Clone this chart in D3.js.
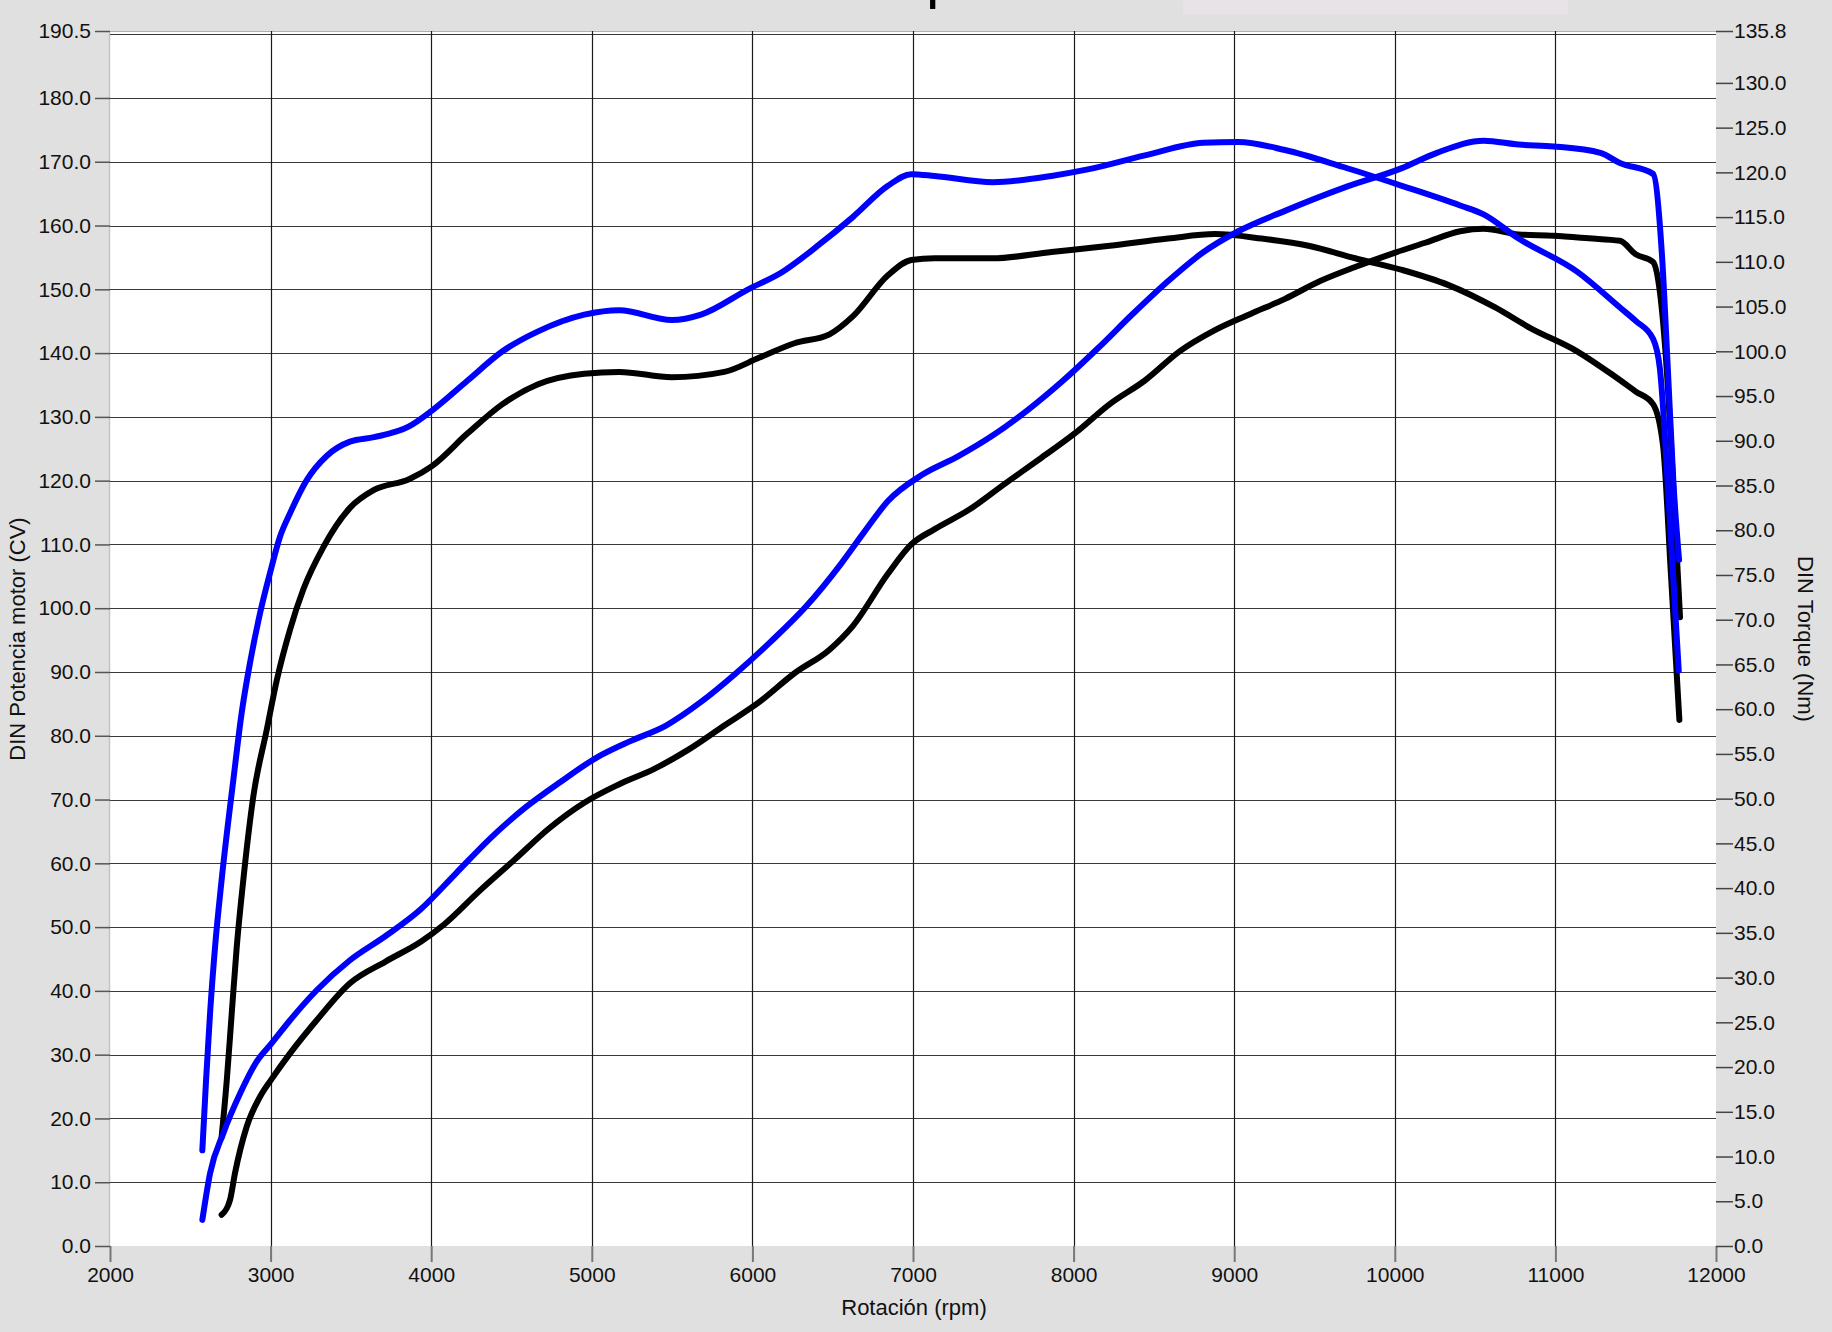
<!DOCTYPE html>
<html>
<head>
<meta charset="utf-8">
<script src="https://cdn.jsdelivr.net/npm/d3@7"></script>
<style>
  html, body { margin: 0; padding: 0; background: #e0e0e0; }
  svg { display: block; font-family: "Liberation Sans", Arial, sans-serif; }
</style>
</head>
<body>
<svg id="chart" width="1832" height="1332"></svg>
<script>
// rpm ticks and axis ticks
var rpmTicks = [2000, 3000, 4000, 5000, 6000, 7000, 8000, 9000, 10000, 11000, 12000];
var cvTicks = [0, 10, 20, 30, 40, 50, 60, 70, 80, 90, 100, 110, 120, 130, 140, 150, 160, 170, 180, 190.5];
var nmTicks = [0, 5, 10, 15, 20, 25, 30, 35, 40, 45, 50, 55, 60, 65, 70, 75, 80, 85, 90, 95, 100, 105, 110, 115, 120, 125, 130, 135.8];
var cvGrid = [10, 20, 30, 40, 50, 60, 70, 80, 90, 100, 110, 120, 130, 140, 150, 160, 170, 180, 190];
var rpmGrid = [3000, 4000, 5000, 6000, 7000, 8000, 9000, 10000, 11000];

// [rpm, CV] - left axis
var powerBlue = [[2575,4.1],[2623,11.4],[2706,17.7],[2810,23.9],[2913,28.9],[3007,31.8],[3121,35.4],[3287,40.1],[3494,44.8],[3716,48.6],[3935,52.8],[4153,58.4],[4371,64.0],[4589,68.8],[4807,72.8],[5025,76.5],[5244,79.2],[5462,81.6],[5680,85.3],[5898,89.8],[6116,94.8],[6335,100.3],[6553,107.0],[6698,112.0],[6844,116.8],[7062,121.0],[7280,123.8],[7498,127.1],[7716,131.1],[7935,135.7],[8153,140.8],[8371,146.2],[8589,151.3],[8807,155.8],[9025,159.1],[9316,162.3],[9680,165.9],[10044,169.0],[10262,171.4],[10553,173.3],[10771,172.7],[10989,172.4],[11280,171.4],[11402,169.8],[11608,168.1],[11663,155.6],[11700,137.6],[11735,119.6],[11770,107.6]];
var powerBlack = [[2695,4.9],[2747,7.2],[2778,11.4],[2851,18.7],[2934,23.4],[3007,26.2],[3121,30.2],[3287,35.4],[3494,41.2],[3716,44.6],[3935,47.7],[4080,50.4],[4298,55.6],[4516,60.5],[4735,65.5],[4953,69.5],[5171,72.4],[5389,74.8],[5607,77.9],[5825,81.6],[6044,85.3],[6262,89.8],[6480,93.5],[6625,97.2],[6844,105.4],[6989,110.0],[7135,112.4],[7353,115.5],[7571,119.5],[7789,123.4],[8007,127.4],[8225,132.0],[8444,135.7],[8662,140.3],[8880,143.6],[9098,146.1],[9316,148.5],[9535,151.3],[9753,153.5],[10007,155.8],[10189,157.3],[10407,159.1],[10553,159.5],[10771,158.6],[10989,158.4],[11207,158.0],[11402,157.6],[11500,155.5],[11608,154.3],[11651,149.5],[11693,137.5],[11733,119.6],[11776,98.6]];

// [rpm, Nm] - right axis
var torqueBlue = [[2575,10.7],[2598,18.5],[2623,26.0],[2654,33.4],[2695,40.9],[2768,52.1],[2820,59.6],[2872,65.2],[2934,70.7],[2996,75.2],[3059,79.3],[3121,81.9],[3225,85.6],[3349,88.3],[3494,89.9],[3644,90.4],[3862,91.6],[4007,93.4],[4225,96.7],[4444,100.0],[4662,102.2],[4953,104.1],[5171,104.6],[5498,103.5],[5680,104.1],[5971,106.9],[6189,108.9],[6407,111.8],[6625,115.0],[6844,118.5],[6989,119.8],[7135,119.6],[7498,118.9],[7862,119.6],[8080,120.3],[8444,121.9],[8807,123.3],[9025,123.4],[9316,122.5],[9680,120.6],[10044,118.5],[10407,116.3],[10553,115.3],[10771,112.6],[11135,108.9],[11402,104.9],[11500,103.4],[11608,101.4],[11651,98.0],[11710,82.0],[11768,64.3]];
var torqueBlack = [[2695,12.2],[2727,18.5],[2758,26.0],[2789,33.4],[2830,40.9],[2892,50.2],[2976,57.7],[3038,63.2],[3121,68.9],[3204,73.4],[3328,78.1],[3494,82.5],[3644,84.5],[3862,85.7],[4007,87.2],[4225,90.8],[4444,94.1],[4662,96.3],[4953,97.5],[5171,97.7],[5498,97.1],[5825,97.7],[6044,99.3],[6262,100.9],[6480,101.9],[6625,103.9],[6844,108.5],[6989,110.2],[7135,110.4],[7498,110.4],[7862,111.1],[8225,111.8],[8589,112.6],[8880,113.1],[9171,112.6],[9462,111.8],[9753,110.4],[10044,109.1],[10335,107.4],[10625,104.9],[10844,102.6],[11135,100.0],[11353,97.4],[11500,95.5],[11608,94.1],[11670,89.5],[11720,74.9],[11772,58.8]];

var plotLeft = 110, plotRight = 1716, plotTop = 31, plotBottom = 1246;

var svg = d3.select('#chart');

var x = d3.scaleLinear().domain([2000, 12000]).range([plotLeft, plotRight]);
var yL = d3.scaleLinear().domain([0, 190.5]).range([plotBottom, plotTop]);
var yR = d3.scaleLinear().domain([0, 135.8]).range([plotBottom, plotTop]);

// page background
svg.append('rect').attr('width', 1832).attr('height', 1332).attr('fill', '#e0e0e0');

// cut-off title remnant and box at the very top
svg.append('rect').attr('x', 1183).attr('y', 0).attr('width', 385).attr('height', 14).attr('fill', '#e7e3e7');
svg.append('text').attr('x', 926).attr('y', -3).attr('font-size', 60).attr('fill', '#000').text('p');

// plot area
svg.append('rect')
    .attr('x', plotLeft).attr('y', plotTop)
    .attr('width', plotRight - plotLeft).attr('height', plotBottom - plotTop)
    .attr('fill', '#fff');
svg.append('line')
    .attr('x1', plotLeft - 0.5).attr('x2', plotLeft - 0.5)
    .attr('y1', plotTop).attr('y2', plotBottom)
    .attr('stroke', '#c4c4c4').attr('stroke-width', 1.5);
svg.append('line')
    .attr('x1', plotLeft).attr('x2', plotRight)
    .attr('y1', plotTop + 0.5).attr('y2', plotTop + 0.5)
    .attr('stroke', '#b0b0b0').attr('stroke-width', 1);

// grid
svg.append('g').selectAll('line')
    .data(cvGrid)
    .enter().append('line')
    .attr('x1', plotLeft).attr('x2', plotRight)
    .attr('y1', function(d) { return Math.round(yL(d)) + 0.5; })
    .attr('y2', function(d) { return Math.round(yL(d)) + 0.5; })
    .attr('stroke', '#3a3a3a').attr('stroke-width', 1.2);
svg.append('g').selectAll('line')
    .data(rpmGrid)
    .enter().append('line')
    .attr('x1', function(d) { return Math.round(x(d)) + 0.5; })
    .attr('x2', function(d) { return Math.round(x(d)) + 0.5; })
    .attr('y1', plotTop).attr('y2', plotBottom)
    .attr('stroke', '#1a1a1a').attr('stroke-width', 1.2);

// axes
var fmt = d3.format('.1f');

var gx = svg.append('g')
    .attr('transform', 'translate(0,' + plotBottom + ')')
    .call(d3.axisBottom(x).tickValues(rpmTicks).tickFormat(d3.format('d')).tickSize(16).tickPadding(5));
gx.select('.domain').remove();
gx.selectAll('.tick line').attr('stroke', '#777').attr('stroke-width', 2);

var gl = svg.append('g')
    .attr('transform', 'translate(' + plotLeft + ',0)')
    .call(d3.axisLeft(yL).tickValues(cvTicks).tickFormat(fmt).tickSize(15).tickPadding(4));
gl.select('.domain').remove();
gl.selectAll('.tick line').attr('stroke', '#555').attr('stroke-width', 1.5);

var gr = svg.append('g')
    .attr('transform', 'translate(' + plotRight + ',0)')
    .call(d3.axisRight(yR).tickValues(nmTicks).tickFormat(fmt).tickSize(17).tickPadding(1));
gr.select('.domain').remove();
gr.selectAll('.tick line').attr('stroke', '#444').attr('stroke-width', 1.5);

svg.selectAll('.tick text')
    .attr('font-size', 21)
    .attr('font-family', '"Liberation Sans", Arial, sans-serif')
    .attr('fill', '#111');

// axis titles
svg.append('text')
    .attr('transform', 'translate(25,639) rotate(-90)')
    .attr('text-anchor', 'middle')
    .attr('font-size', 22).attr('fill', '#111')
    .text('DIN Potencia motor (CV)');
svg.append('text')
    .attr('transform', 'translate(1798,639) rotate(90)')
    .attr('text-anchor', 'middle')
    .attr('font-size', 22).attr('fill', '#111')
    .text('DIN Torque (Nm)');
svg.append('text')
    .attr('x', 914).attr('y', 1315)
    .attr('text-anchor', 'middle')
    .attr('font-size', 22).attr('fill', '#111')
    .text('Rotación (rpm)');

// curves
var lineL = d3.line()
    .x(function(d) { return x(d[0]); })
    .y(function(d) { return yL(d[1]); })
    .curve(d3.curveMonotoneX);
var lineR = d3.line()
    .x(function(d) { return x(d[0]); })
    .y(function(d) { return yR(d[1]); })
    .curve(d3.curveMonotoneX);

var curves = [
    { data: torqueBlack, line: lineR, color: '#000' },
    { data: powerBlack, line: lineL, color: '#000' },
    { data: torqueBlue, line: lineR, color: '#0000ff' },
    { data: powerBlue, line: lineL, color: '#0000ff' }
];

svg.append('g').selectAll('path')
    .data(curves)
    .enter().append('path')
    .attr('d', function(c) { return c.line(c.data); })
    .attr('fill', 'none')
    .attr('stroke', function(c) { return c.color; })
    .attr('stroke-width', 6)
    .attr('stroke-linecap', 'round')
    .attr('stroke-linejoin', 'round');
</script>
</body>
</html>
